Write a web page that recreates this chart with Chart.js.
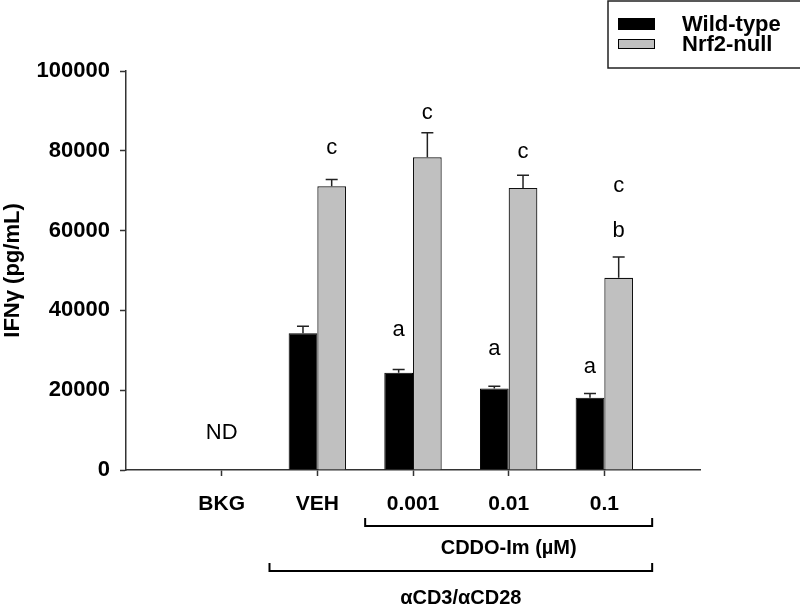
<!DOCTYPE html>
<html>
<head>
<meta charset="utf-8">
<script src="https://cdn.jsdelivr.net/npm/chart.js@4/dist/chart.umd.min.js"></script>
<style>
  body { margin: 0; background: #fff; }
  #chart { display: block; }
</style>
</head>
<body>
<canvas id="chart" width="800" height="605"></canvas>
<script>
// IFNy by treatment, wild-type vs Nrf2-null
const categories = ['BKG', 'VEH', '0.001', '0.01', '0.1'];
const wildType = [null, 34300, 24400, 20400, 18100];
const wildTypeSem = [null, 1700, 800, 600, 1100];
const nrf2Null = [null, 71100, 78400, 70700, 48200];
const nrf2NullSem = [null, 1700, 6100, 3200, 5200];
const yTicks = [0, 20000, 40000, 60000, 80000, 100000];

// significance letters (text + baseline value in data units)
const wtLetters = [[], [], ['a'], ['a'], ['a']];
const wtLetterY = [[], [], [33700], [28900], [24200]];
const nrfLetters = [[], ['c'], ['c'], ['c'], ['c', 'b']];
const nrfLetterY = [[], [79100], [87900], [78100], [69600, 58300]];
const ndText = 'ND';
const ndY = 7860;

// brackets under the axis: label, first and last category index
const bracketLabels = ['CDDO-Im (µM)', 'αCD3/αCD28'];
const bracketFrom = [2, 1];
const bracketTo = [4, 4];

const FONT = "'Liberation Sans', Arial, Helvetica, sans-serif";
const AXIS = '#333';

// pad one empty slot either side so the axis runs half a step past the ticks
const labels = ['', ...categories, ''];
const pad = arr => [null, ...arr, null];

const annotations = {
    id: 'annotations',
    afterDatasetsDraw(chart) {
        const ctx = chart.ctx;
        const x = chart.scales.x;
        const y = chart.scales.y;
        const area = chart.chartArea;

        // error bars (upward only)
        [wildTypeSem, nrf2NullSem].forEach((sem, d) => {
            const meta = chart.getDatasetMeta(d);
            const vals = d === 0 ? wildType : nrf2Null;
            sem.forEach((s, i) => {
                if (s == null || vals[i] == null) return;
                const bar = meta.data[i + 1];
                const top = y.getPixelForValue(vals[i]);
                const cap = y.getPixelForValue(vals[i] + s);
                ctx.save();
                ctx.strokeStyle = '#222';
                ctx.lineWidth = 1.5;
                ctx.beginPath();
                ctx.moveTo(bar.x, top);
                ctx.lineTo(bar.x, cap);
                ctx.moveTo(bar.x - 6, cap);
                ctx.lineTo(bar.x + 6, cap);
                ctx.stroke();
                ctx.restore();
            });
        });

        // letters
        ctx.save();
        ctx.fillStyle = '#000';
        ctx.font = '22px ' + FONT;
        ctx.textAlign = 'center';
        ctx.textBaseline = 'alphabetic';
        [[wtLetters, wtLetterY], [nrfLetters, nrfLetterY]].forEach(([txt, pos], d) => {
            const meta = chart.getDatasetMeta(d);
            txt.forEach((list, i) => {
                list.forEach((t, k) => {
                    const bar = meta.data[i + 1];
                    ctx.fillText(t, bar.x, y.getPixelForValue(pos[i][k]));
                });
            });
        });
        ctx.fillText(ndText, x.getPixelForValue(1), y.getPixelForValue(ndY));
        ctx.restore();

        // brackets + labels below the axis
        ctx.save();
        ctx.strokeStyle = '#000';
        ctx.lineWidth = 2;
        ctx.fillStyle = '#000';
        ctx.font = 'bold 20px ' + FONT;
        ctx.textAlign = 'center';
        ctx.textBaseline = 'middle';
        bracketLabels.forEach((lab, b) => {
            const x0 = x.getPixelForValue(bracketFrom[b] + 1 - 0.5);
            const x1 = x.getPixelForValue(bracketTo[b] + 1 + 0.5);
            const by = area.bottom + 56 + b * 45;
            ctx.beginPath();
            ctx.moveTo(x0, by - 8);
            ctx.lineTo(x0, by);
            ctx.lineTo(x1, by);
            ctx.lineTo(x1, by - 8);
            ctx.stroke();
            ctx.fillText(lab, (x0 + x1) / 2, by + 22 + b * 5);
        });
        ctx.restore();

        // legend box
        ctx.save();
        ctx.strokeStyle = '#222';
        ctx.lineWidth = 1.5;
        ctx.strokeRect(608, 1, 200, 67);
        ctx.font = 'bold 22px ' + FONT;
        ctx.textBaseline = 'middle';
        ctx.textAlign = 'left';
        chart.data.datasets.forEach((ds, d) => {
            const sy = d === 0 ? 18 : 39;
            const sh = d === 0 ? 12 : 10;
            ctx.fillStyle = ds.backgroundColor;
            ctx.fillRect(618, sy, 37, sh);
            ctx.lineWidth = 1;
            ctx.strokeStyle = '#000';
            ctx.strokeRect(618.5, sy + 0.5, 36, sh - 1);
            ctx.fillStyle = '#000';
            ctx.fillText(ds.label, 682, sy + sh / 2 + 1);
        });
        ctx.restore();
    }
};

new Chart(document.getElementById('chart'), {
    type: 'bar',
    data: {
        labels: labels,
        datasets: [
            {
                label: 'Wild-type',
                data: pad(wildType),
                backgroundColor: '#000000',
                borderColor: '#000000',
                borderWidth: 1
            },
            {
                label: 'Nrf2-null',
                data: pad(nrf2Null),
                backgroundColor: '#c0c0c0',
                borderColor: '#111111',
                borderWidth: 1.2
            }
        ]
    },
    options: {
        responsive: false,
        animation: false,
        events: [],
        layout: {
            padding: { left: 0, top: 71, right: 100, bottom: 0 }
        },
        datasets: {
            bar: {
                categoryPercentage: 0.6,
                barPercentage: 1.0
            }
        },
        plugins: {
            legend: { display: false },
            tooltip: { enabled: false }
        },
        scales: {
            x: {
                offset: false,
                grid: {
                    offset: false,
                    drawOnChartArea: false,
                    drawTicks: true,
                    tickLength: 6,
                    tickColor: c => (c.index === 0 || c.index === labels.length - 1) ? 'rgba(0,0,0,0)' : AXIS,
                    tickWidth: 1.5
                },
                border: { color: AXIS, width: 1.5 },
                ticks: {
                    color: '#000',
                    font: { family: FONT, size: 21, weight: 'bold' },
                    padding: 16,
                    maxRotation: 0,
                    autoSkip: false
                },
                afterFit: s => { s.height = 135; }
            },
            y: {
                min: 0,
                max: 100000,
                afterBuildTicks: s => { s.ticks = yTicks.map(v => ({ value: v })); },
                grid: {
                    drawOnChartArea: false,
                    drawTicks: true,
                    tickLength: 6,
                    tickColor: AXIS,
                    tickWidth: 1.5
                },
                border: { color: AXIS, width: 1.5 },
                ticks: {
                    color: '#000',
                    font: { family: FONT, size: 22, weight: 'bold' },
                    padding: 10,
                    callback: v => String(v)
                },
                title: {
                    display: true,
                    text: 'IFNγ (pg/mL)',
                    color: '#000',
                    font: { family: FONT, size: 22, weight: 'bold' },
                    padding: { top: 0, bottom: 0 }
                },
                afterFit: s => { s.width = 126; }
            }
        }
    },
    plugins: [annotations]
});
</script>
</body>
</html>
